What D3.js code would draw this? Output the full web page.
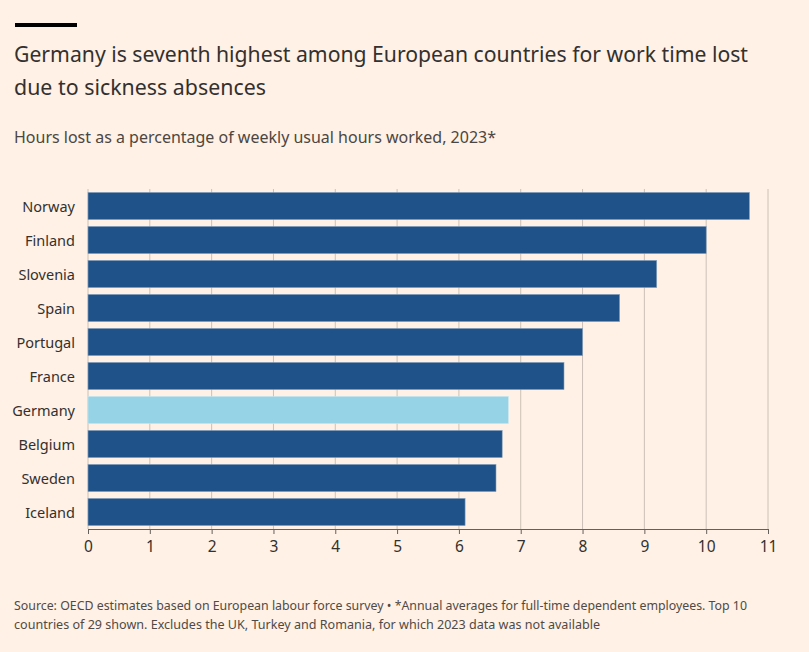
<!DOCTYPE html>
<html><head><meta charset="utf-8">
<script src="https://cdn.jsdelivr.net/npm/d3@7"></script>
<style>
html,body{margin:0;padding:0;background:#FFF1E5;}
svg{display:block;font-family:"Noto Sans",Lato,sans-serif;}
</style></head>
<body>
<svg id="chart" width="809" height="652"></svg>
<script>
const countries = ["Norway","Finland","Slovenia","Spain","Portugal","France","Germany","Belgium","Sweden","Iceland"];
const values = [10.7,10.0,9.2,8.6,8.0,7.7,6.8,6.7,6.6,6.1];
const highlight = ["Germany"];
const xTicks = [0,1,2,3,4,5,6,7,8,9,10,11];
const titleLines = ["Germany is seventh highest among European countries for work time lost","due to sickness absences"];
const subtitle = "Hours lost as a percentage of weekly usual hours worked, 2023*";
const footLines = ["Source: OECD estimates based on European labour force survey \u2022 *Annual averages for full-time dependent employees. Top 10","countries of 29 shown. Excludes the UK, Turkey and Romania, for which 2023 data was not available"];

const svg = d3.select("#chart");
svg.append("rect").attr("width",809).attr("height",652).attr("fill","#FFF1E5");
svg.append("rect").attr("x",15).attr("y",23).attr("width",62).attr("height",4).attr("fill","#000");

function fitText(sel, target){
  const w = sel.node().getComputedTextLength();
  if (w>0) sel.attr("textLength",target).attr("lengthAdjust","spacingAndGlyphs");
}

const t1 = svg.append("text").attr("x",14).attr("y",62).attr("fill","#33302e").style("font-size","22px").text(titleLines[0]);
fitText(t1, 734);
const t2 = svg.append("text").attr("x",14).attr("y",95).attr("fill","#33302e").style("font-size","22px").text(titleLines[1]);
fitText(t2, 252);
const st = svg.append("text").attr("x",14).attr("y",143).attr("fill","#4b4642").style("font-size","16px").text(subtitle);
fitText(st, 482);
const f1 = svg.append("text").attr("x",14).attr("y",610).attr("fill","#4f4a46").style("font-size","12.5px").text(footLines[0]);
fitText(f1, 733);
const f2 = svg.append("text").attr("x",14).attr("y",629).attr("fill","#4f4a46").style("font-size","12.5px").text(footLines[1]);
fitText(f2, 586);

const x = d3.scaleLinear().domain([0,11]).range([88,768]);
const y = d3.scaleBand().domain(countries).range([189,529]).paddingInner(0.2).paddingOuter(0.1);

// gridlines
svg.append("g").selectAll("line").data(xTicks).join("line")
  .attr("x1",d=>x(d)).attr("x2",d=>x(d)).attr("y1",189).attr("y2",529)
  .attr("stroke","#ccc1b7").attr("stroke-width",1);

// bars
svg.append("g").selectAll("rect").data(countries).join("rect")
  .attr("x",x(0)).attr("y",d=>y(d)).attr("width",(d,i)=>x(values[i])-x(0)).attr("height",y.bandwidth())
  .attr("fill",d=>highlight.includes(d)?"#96D3E6":"#1F5289")
  .attr("stroke",d=>highlight.includes(d)?"#c9e7ef":"#8aa3bd").attr("stroke-width",0.6);

// y labels
const ya = svg.append("g").attr("transform","translate(75,1.5)").call(d3.axisLeft(y).tickSize(0).tickPadding(0));
ya.select(".domain").remove();
ya.selectAll("text").attr("fill","#33302e").style("font-size","14.5px").style("font-family","'Noto Sans',Lato,sans-serif");

// x axis
const xa = svg.append("g").attr("transform","translate(0,529)").call(d3.axisBottom(x).tickValues(xTicks).tickSize(5).tickPadding(7).tickFormat(d3.format("d")));
xa.select(".domain").attr("stroke","#66605c");
xa.selectAll(".tick line").attr("stroke","#66605c");
xa.selectAll("text").attr("fill","#33302e").style("font-size","15.5px").style("font-family","'Noto Sans',Lato,sans-serif");
</script>
</body></html>
